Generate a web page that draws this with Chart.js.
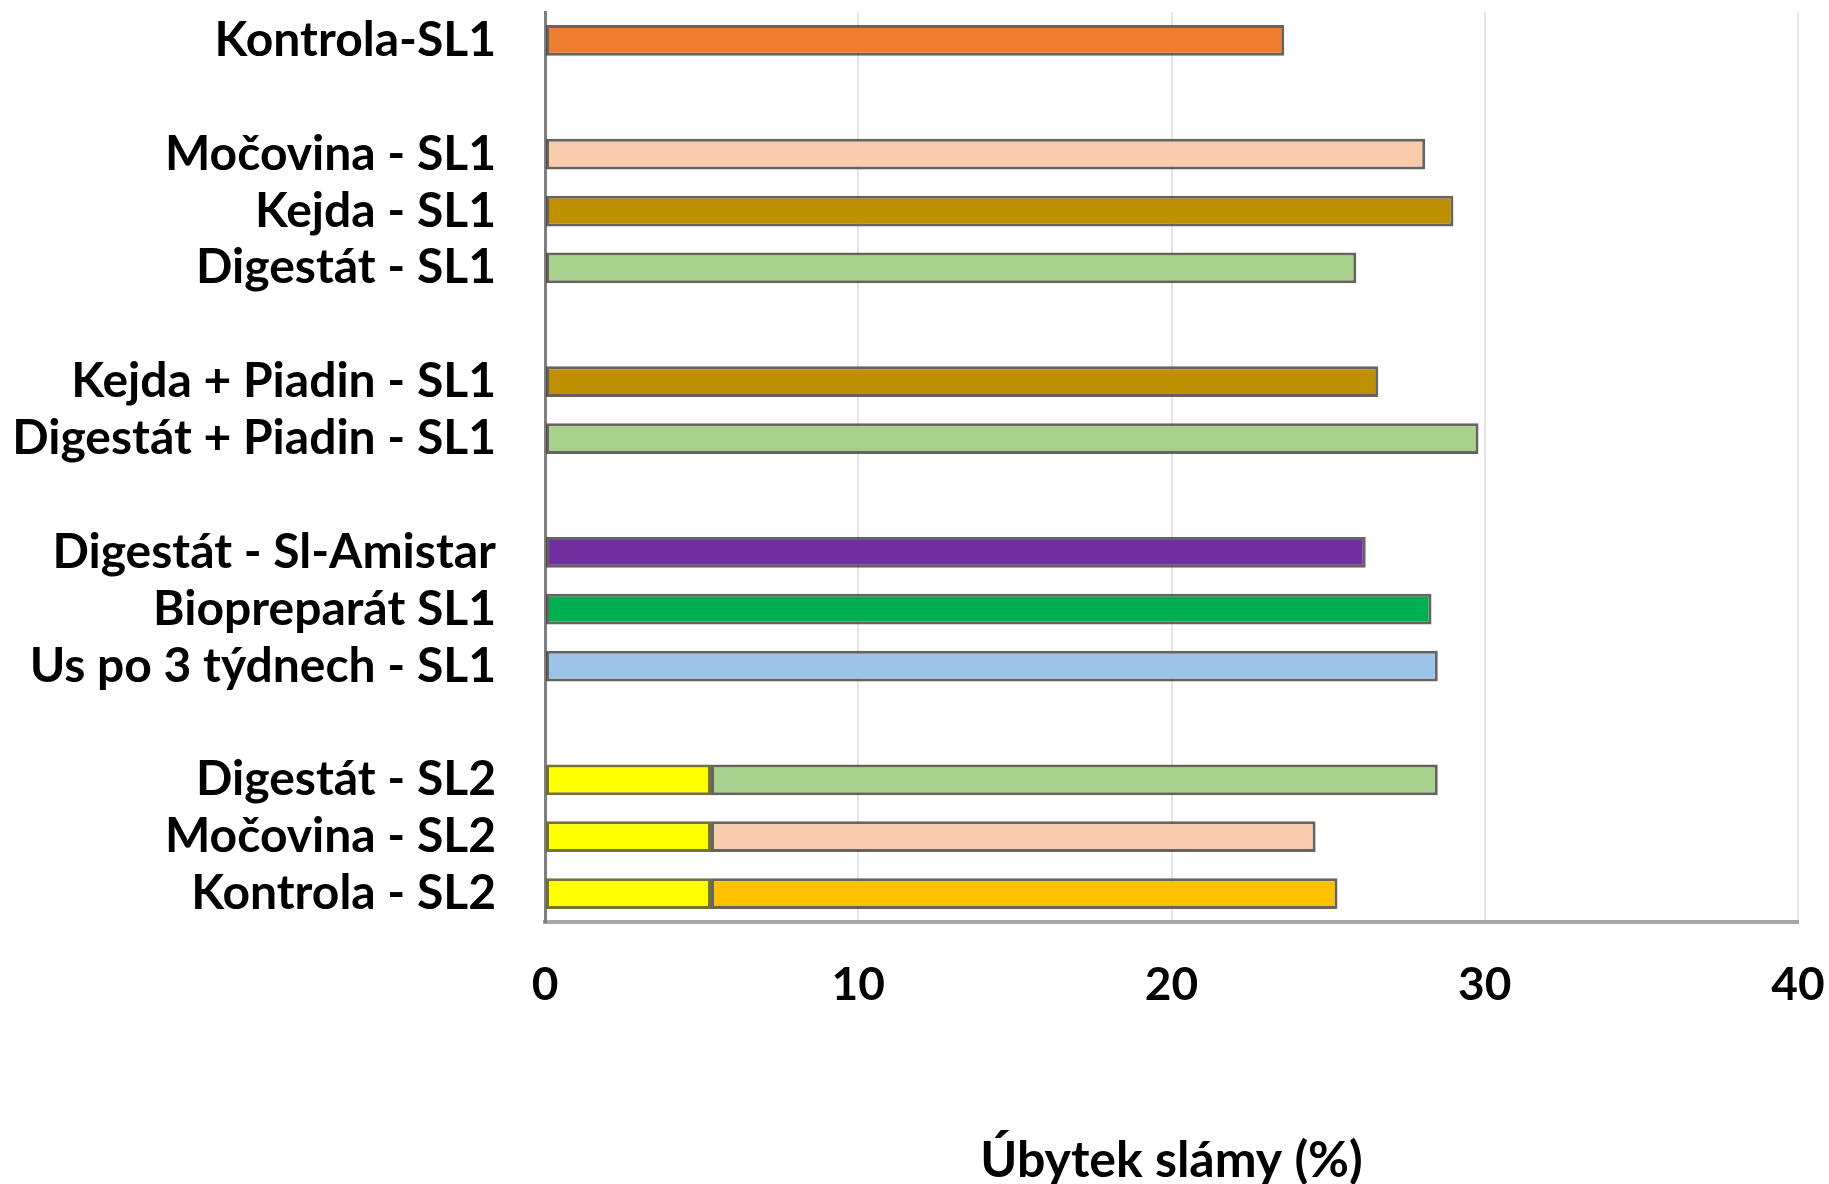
<!DOCTYPE html>
<html>
<head>
<meta charset="utf-8">
<script src="https://cdn.jsdelivr.net/npm/chart.js@4"></script>
<style>
  html, body { margin: 0; padding: 0; background: #fff; overflow: hidden; }
  #wrap { position: relative; width: 1829px; height: 1184px; }
</style>
</head>
<body>
<div id="wrap"><canvas id="c"></canvas></div>
<script>
const categories = ['Kontrola-SL1', '', 'Močovina - SL1', 'Kejda - SL1', 'Digestát - SL1', '',
  'Kejda + Piadin - SL1', 'Digestát + Piadin - SL1', '',
  'Digestát - Sl-Amistar', 'Biopreparát SL1', 'Us po 3 týdnech - SL1', '',
  'Digestát - SL2', 'Močovina - SL2', 'Kontrola - SL2'];
const totalLoss = [23.6, null, 28.1, 29.0, 25.9, null, 26.6, 29.8, null, 26.2, 28.3, 28.5, null, 28.5, 24.6, 25.3];
const firstPart = [null, null, null, null, null, null, null, null, null, null, null, null, null, 5.3, 5.3, 5.3];
const barColors = ['#ED7D31', null, '#F8CBAD', '#BF9000', '#A9D18E', null, '#BF9000', '#A9D18E', null,
  '#7030A0', '#00B050', '#9DC3E6', null, '#A9D18E', '#F8CBAD', '#FFC000'];
const xTicks = [0, 10, 20, 30, 40];
const axisTitle = 'Úbytek slámy (%)';

const FONT = 'Lato';
const mainData = totalLoss.map((v, i) => v == null ? null : [firstPart[i] == null ? 0 : firstPart[i], v]);
const yellowData = firstPart.map(v => v == null ? null : [0, v]);

new Chart(document.getElementById('c'), {
  type: 'bar',
  data: {
    labels: categories,
    datasets: [
      {
        label: 'SL2 base',
        data: yellowData,
        backgroundColor: '#FFFF00',
        borderColor: 'rgba(100,100,30,0.9)',
        borderWidth: 3,
        borderSkipped: false,
        grouped: false,
        categoryPercentage: 1,
        barPercentage: 0.54
      },
      {
        label: 'Úbytek',
        data: mainData,
        backgroundColor: barColors,
        borderColor: 'rgba(65,60,55,0.8)',
        borderWidth: 3,
        borderSkipped: false,
        grouped: false,
        categoryPercentage: 1,
        barPercentage: 0.54
      }
    ]
  },
  options: {
    indexAxis: 'y',
    responsive: true,
    maintainAspectRatio: false,
    animation: false,
    layout: { padding: { top: 12, right: 0, left: 0, bottom: 0 } },
    plugins: { legend: { display: false }, tooltip: { enabled: false } },
    scales: {
      x: {
        type: 'linear',
        min: 0, max: 40,
        afterBuildTicks: s => { s.ticks = xTicks.map(v => ({ value: v })); },
        afterFit: s => { s.height = 262; s.paddingLeft = 0; s.paddingRight = 31; },
        grid: { color: '#e6e6e6', lineWidth: 2, drawTicks: false },
        border: { display: true, color: '#a6a6a6', width: 4 },
        ticks: { color: '#000', padding: 36, font: { family: FONT, size: 46, weight: 'bold' } },
        title: {
          display: true, text: axisTitle, color: '#000',
          font: { family: FONT, size: 50, weight: 'bold', lineHeight: 0.92 },
          padding: { top: 0, bottom: 0 }
        }
      },
      y: {
        afterFit: s => { s.width = 545; s.paddingTop = 0; s.paddingBottom = 0; },
        grid: { display: false, drawTicks: false },
        border: { display: true, color: '#7f7f7f', width: 3 },
        ticks: { color: '#000', padding: 49, autoSkip: false, font: { family: FONT, size: 48, weight: 'bold' } }
      }
    }
  }
});
</script>
</body>
</html>
